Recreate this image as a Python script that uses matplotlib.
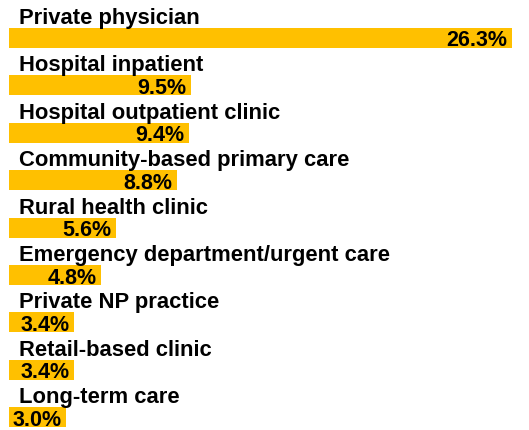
import matplotlib
matplotlib.use("Agg")
import matplotlib.pyplot as plt

categories = ["Private physician", "Hospital inpatient", "Hospital outpatient clinic",
              "Community-based primary care", "Rural health clinic",
              "Emergency department/urgent care", "Private NP practice",
              "Retail-based clinic", "Long-term care"]
values = [26.3, 9.5, 9.4, 8.8, 5.6, 4.8, 3.4, 3.4, 3.0]
value_labels = ["26.3%", "9.5%", "9.4%", "8.8%", "5.6%", "4.8%", "3.4%", "3.4%", "3.0%"]

W, H = 529, 430
fig = plt.figure(figsize=(W / 100, H / 100), dpi=100)
ax = fig.add_axes([0, 0, 1, 1])
plt.rcParams['font.family'] = ['Liberation Sans', 'DejaVu Sans']

pxu = 19.13   # pixels per percent
x0 = 9        # pixel of zero
row = 47.4    # pixels per row
y0 = 38       # pixel centre of first bar
bar_h = 20 / row

ax.set_xlim(-x0 / pxu, (W - x0) / pxu)
ax.set_ylim((H - y0) / row, -y0 / row)
ax.axis('off')

ys = list(range(len(categories)))
ax.barh(ys, values, height=bar_h, color='#FFC000', left=0)
for y, c, v, lab in zip(ys, categories, values, value_labels):
    ax.text(10 / pxu, y - bar_h / 2 - 4 / row, c, fontsize=15.8, fontweight='bold',
            family=['Liberation Sans', 'DejaVu Sans'], va='baseline', ha='left', color='black')
    ax.text(v - 4.5 / pxu, y + bar_h / 2 - 1.5 / row, lab, fontsize=15.5, fontweight='bold',
            family=['Liberation Sans', 'DejaVu Sans'], va='baseline', ha='right', color='black')

fig.savefig("out.png", dpi=100)
